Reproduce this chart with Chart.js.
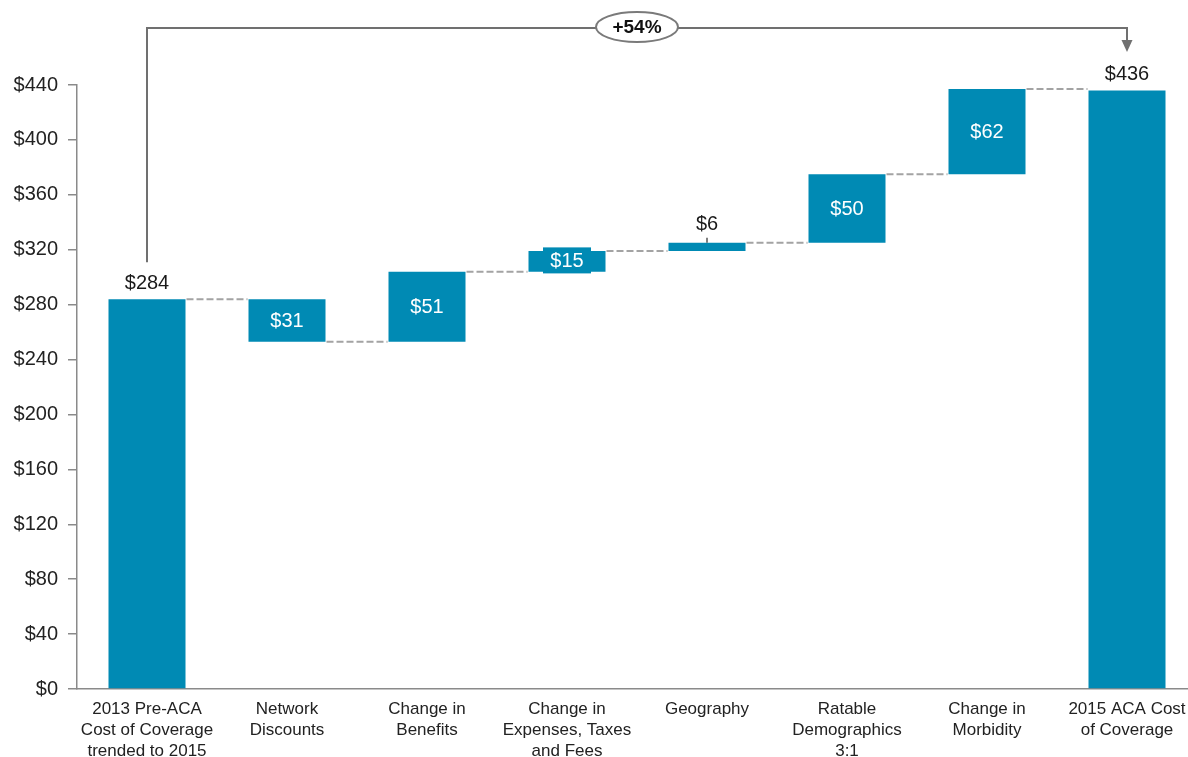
<!DOCTYPE html>
<html>
<head>
<meta charset="utf-8">
<script src="https://cdn.jsdelivr.net/npm/chart.js@4/dist/chart.umd.min.js"></script>
<style>
  html, body { margin: 0; padding: 0; overflow: hidden; background: #fff; }
  canvas { display: block; }
</style>
</head>
<body>
<canvas id="c" width="1200" height="757"></canvas>
<script>
// Waterfall: per-member cost bridge from 2013 pre-ACA to 2015 ACA coverage
const categories = [
  ['2013 Pre-ACA', 'Cost of Coverage', 'trended to 2015'],
  ['Network', 'Discounts'],
  ['Change in', 'Benefits'],
  ['Change in', 'Expenses, Taxes', 'and Fees'],
  ['Geography'],
  ['Ratable', 'Demographics', '3:1'],
  ['Change in', 'Morbidity'],
  ['2015 ACA Cost', 'of Coverage']
];
const startTotal = 284;
const changes = [-31, 51, 15, 6, 50, 62];
const endTotal = 436;
const growthLabel = '+54%';
const yTickValues = [0, 40, 80, 120, 160, 200, 240, 280, 320, 360, 400, 440];

// Floating [low, high] ranges and running totals built from the values above
const ranges = [[0, startTotal]];
const levels = [startTotal];
let running = startTotal;
changes.forEach(c => {
  const next = running + c;
  ranges.push([Math.min(running, next), Math.max(running, next)]);
  running = next;
  levels.push(running);
});
ranges.push([0, endTotal]);
levels.push(endTotal);
const valueLabels = [startTotal, ...changes.map(Math.abs), endTotal];

const FONT = '"Liberation Sans", Arial, sans-serif';
const BAR = '#008AB4';

const waterfallDecor = {
  id: 'waterfallDecor',
  afterDatasetsDraw(chart) {
    const ctx = chart.ctx;
    const meta = chart.getDatasetMeta(0);
    const ys = chart.scales.y;
    const bars = meta.data.map(el => el.getProps(['x', 'y', 'base', 'width'], true));
    const last = bars.length - 1;

    ctx.save();
    // dashed connectors between consecutive bars
    ctx.setLineDash([7, 3]);
    ctx.strokeStyle = '#a3a3a3';
    ctx.lineWidth = 2;
    for (let i = 0; i < last; i++) {
      const a = bars[i], b = bars[i + 1];
      const yy = ys.getPixelForValue(levels[i]);
      ctx.beginPath();
      ctx.moveTo(a.x + a.width / 2 + 1, yy);
      ctx.lineTo(b.x - b.width / 2 - 1, yy);
      ctx.stroke();
    }
    ctx.setLineDash([]);

    // value labels
    ctx.font = '20px ' + FONT;
    ctx.textAlign = 'center';
    bars.forEach((b, i) => {
      const top = Math.min(b.y, b.base);
      const bottom = Math.max(b.y, b.base);
      const h = bottom - top;
      const text = '$' + valueLabels[i];
      if (i === 0 || i === last) {
        ctx.fillStyle = '#1a1a1a';
        ctx.textBaseline = 'bottom';
        ctx.fillText(text, b.x, top - 6);
      } else if (h < 14) {
        ctx.strokeStyle = '#555';
        ctx.lineWidth = 1.5;
        ctx.beginPath();
        ctx.moveTo(b.x, top);
        ctx.lineTo(b.x, top - 5);
        ctx.stroke();
        ctx.fillStyle = '#1a1a1a';
        ctx.textBaseline = 'bottom';
        ctx.fillText(text, b.x, top - 8);
      } else if (h < 28) {
        const cy = (top + bottom) / 2;
        ctx.fillStyle = BAR;
        ctx.fillRect(b.x - 24, cy - 14, 48, 26);
        ctx.fillStyle = '#ffffff';
        ctx.textBaseline = 'middle';
        ctx.fillText(text, b.x, cy);
      } else {
        ctx.fillStyle = '#ffffff';
        ctx.textBaseline = 'middle';
        ctx.fillText(text, b.x, (top + bottom) / 2 + 1);
      }
    });

    // growth bracket from the starting total to the ending total
    const x0 = bars[0].x, x1 = bars[last].x;
    const lineY = 28;
    const legBottom = Math.min(bars[0].y, bars[0].base) - 37;
    ctx.strokeStyle = '#707070';
    ctx.lineWidth = 2;
    ctx.beginPath();
    ctx.moveTo(x0, legBottom);
    ctx.lineTo(x0, lineY);
    ctx.lineTo(x1, lineY);
    ctx.lineTo(x1, 42);
    ctx.stroke();
    ctx.fillStyle = '#707070';
    ctx.beginPath();
    ctx.moveTo(x1 - 5.5, 40);
    ctx.lineTo(x1 + 5.5, 40);
    ctx.lineTo(x1, 52);
    ctx.closePath();
    ctx.fill();

    const cx = (x0 + x1) / 2;
    ctx.beginPath();
    ctx.ellipse(cx, 27, 41, 15, 0, 0, Math.PI * 2);
    ctx.fillStyle = '#ffffff';
    ctx.fill();
    ctx.strokeStyle = '#7a7a7a';
    ctx.lineWidth = 2;
    ctx.stroke();
    ctx.fillStyle = '#111';
    ctx.font = 'bold 19px ' + FONT;
    ctx.textBaseline = 'middle';
    ctx.fillText(growthLabel, cx, 28);
    ctx.restore();
  }
};

new Chart(document.getElementById('c'), {
  type: 'bar',
  data: {
    labels: categories,
    datasets: [{
      data: ranges,
      backgroundColor: BAR,
      borderWidth: 0,
      barPercentage: 0.55,
      categoryPercentage: 1
    }]
  },
  options: {
    responsive: false,
    devicePixelRatio: 1,
    animation: false,
    events: [],
    layout: { padding: { top: 85, right: 3, left: 0, bottom: 0 } },
    plugins: { legend: { display: false }, tooltip: { enabled: false } },
    scales: {
      x: {
        grid: { display: true, drawOnChartArea: false, drawTicks: false },
        border: { display: true, color: '#8a8a8a', width: 1.5 },
        ticks: {
          color: '#222',
          font: { family: FONT, size: 17, lineHeight: 1.24 },
          padding: 10,
          maxRotation: 0,
          autoSkip: false
        },
        afterFit(s) { s.height = 68; }
      },
      y: {
        min: 0,
        max: 440,
        afterBuildTicks(s) { s.ticks = yTickValues.map(v => ({ value: v })); },
        ticks: {
          color: '#222',
          font: { family: FONT, size: 20 },
          padding: 10,
          callback: v => '$' + v
        },
        grid: { drawOnChartArea: false, drawTicks: true, tickLength: 9, color: '#8a8a8a', lineWidth: 1.5 },
        border: { display: true, color: '#8a8a8a', width: 1.5 },
        afterFit(s) { s.width = 77; }
      }
    }
  },
  plugins: [waterfallDecor]
});
</script>
</body>
</html>
